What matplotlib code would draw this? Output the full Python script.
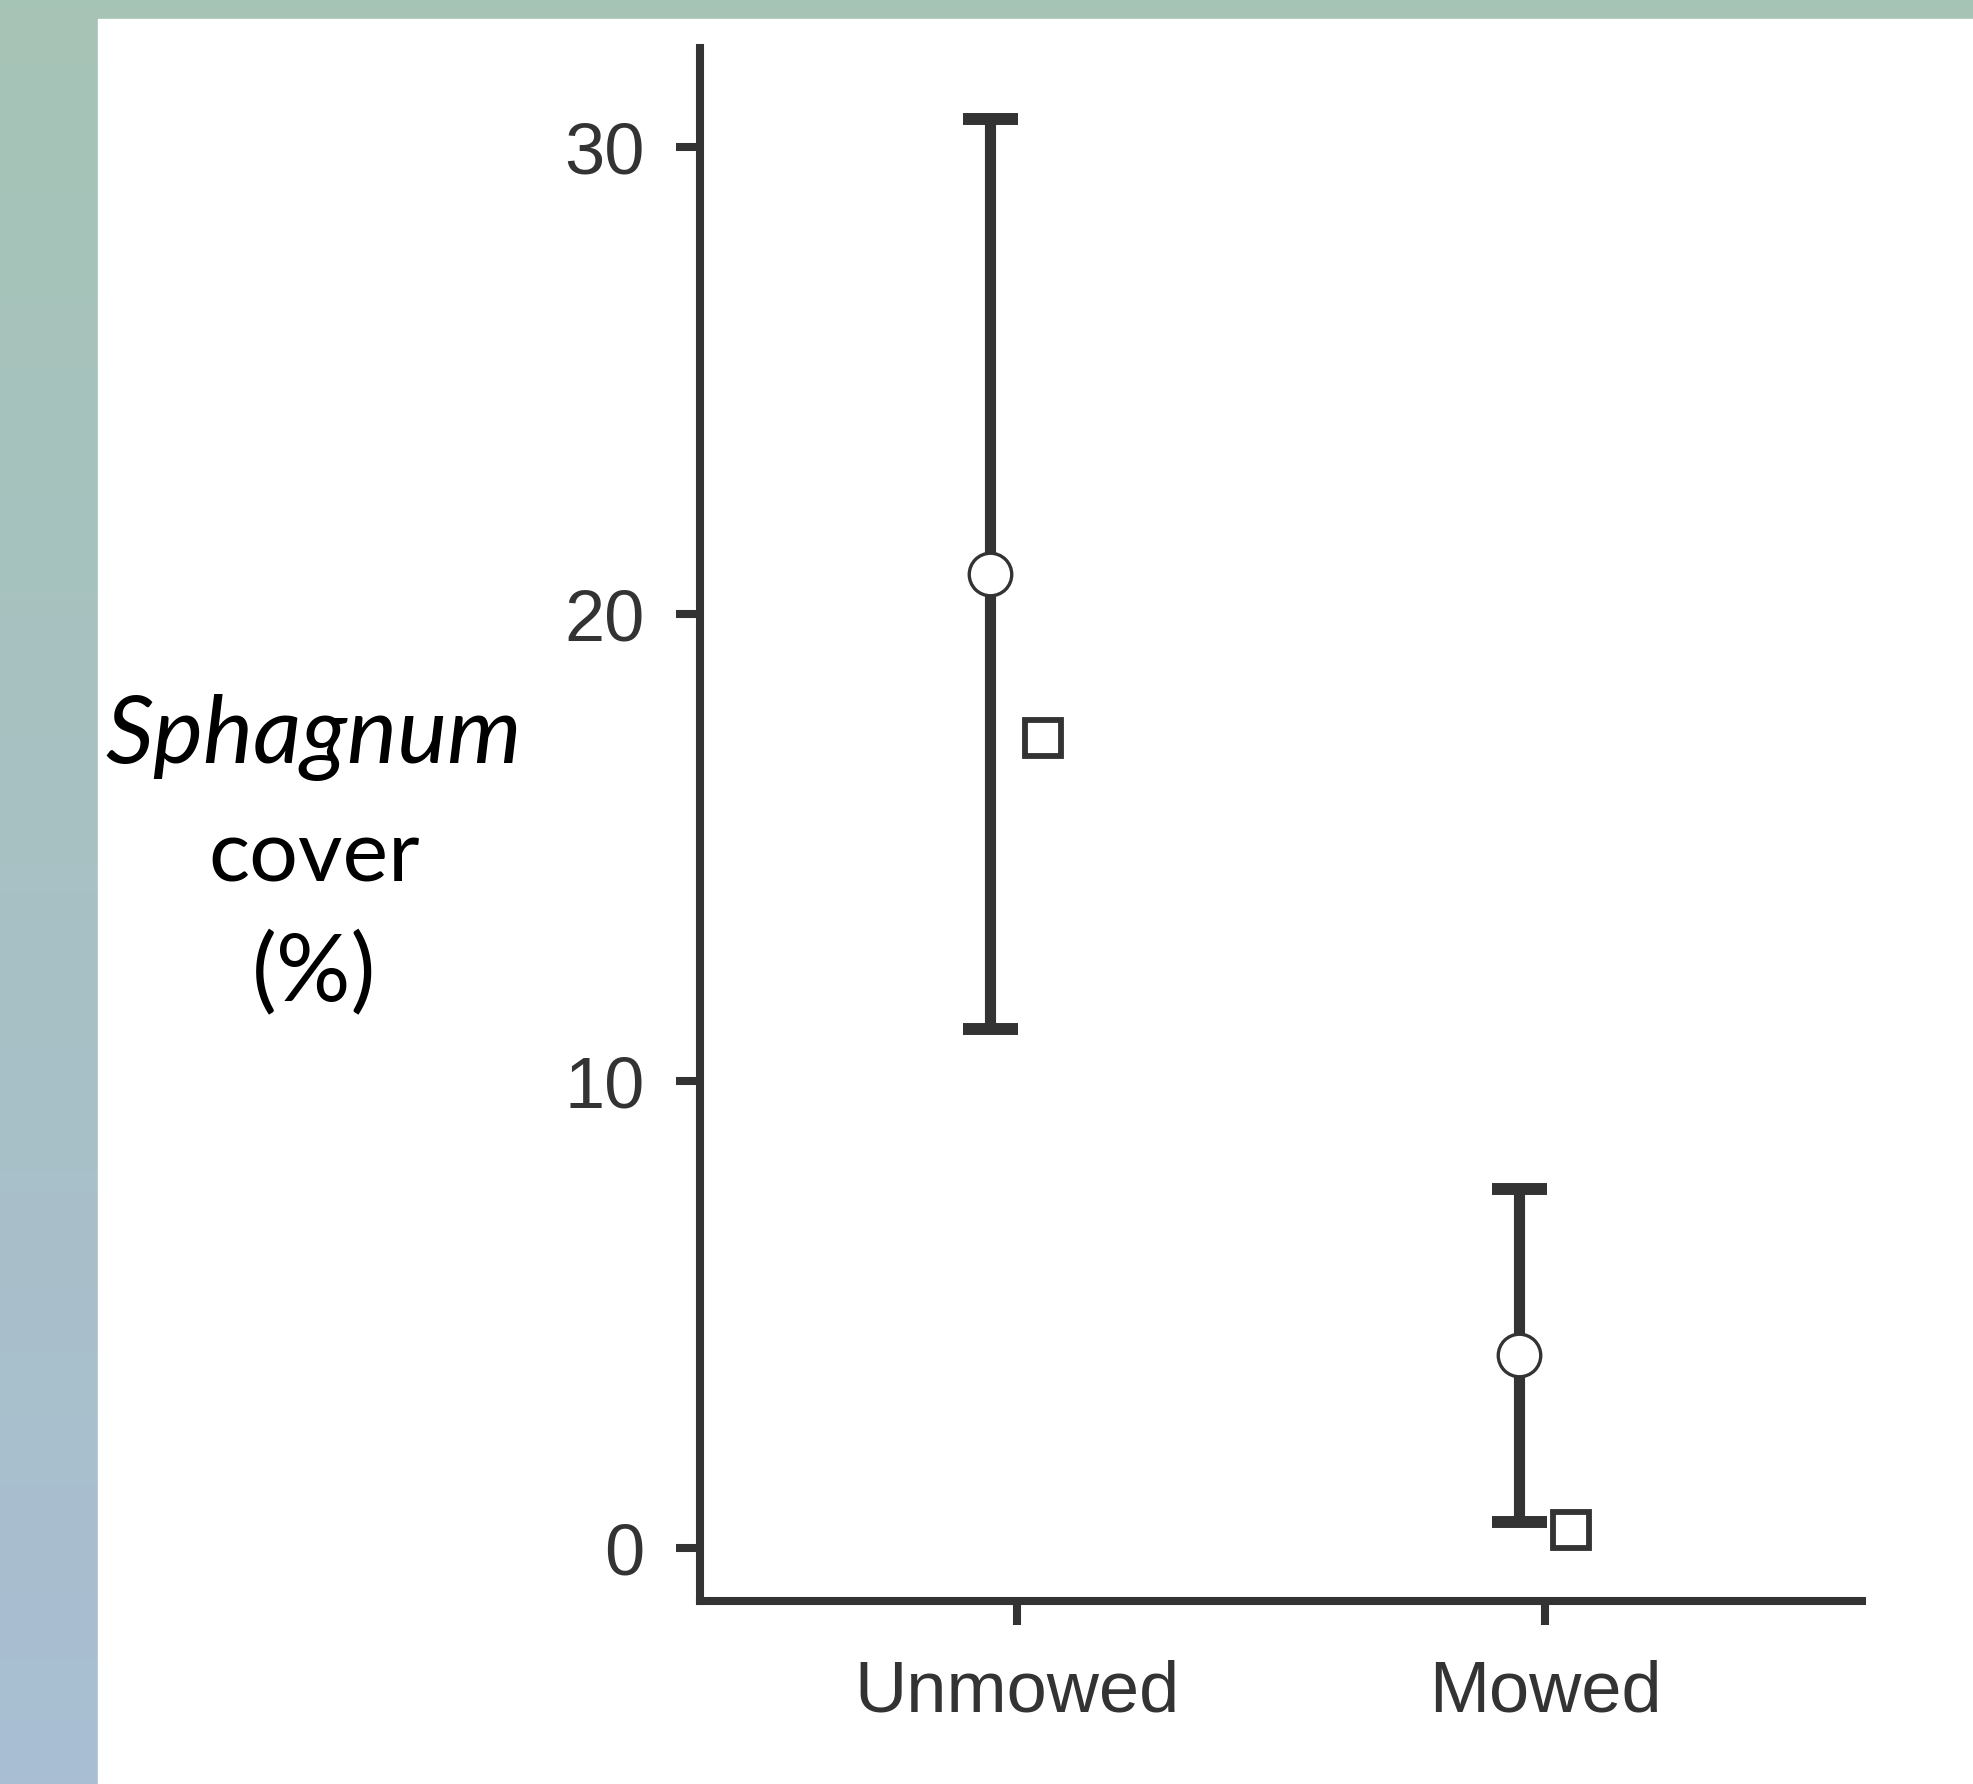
import matplotlib.pyplot as plt
import numpy as np
from matplotlib.patches import Rectangle

# values
groups = ['Unmowed', 'Mowed']
circle_mean = [20.87, 4.14]
circle_lower = [11.12, 0.56]
circle_upper = [30.61, 7.70]
square_mean = [17.35, 0.39]
yticks = [0, 10, 20, 30]

dark = '#333333'
W, H = 1973, 1784
fig = plt.figure(figsize=(W / 100, H / 100), dpi=100)

# slide background: gradient strip on the left and top, white panel
bg = fig.add_axes([0, 0, 1, 1])
grad = np.linspace(0, 1, 256).reshape(-1, 1)
top_rgb = np.array([166, 196, 182]) / 255
bot_rgb = np.array([169, 190, 211]) / 255
img = top_rgb * (1 - grad[..., None]) + bot_rgb * grad[..., None]
bg.imshow(img, aspect='auto', extent=[0, 1, 0, 1], origin='upper')
bg.add_patch(Rectangle((98 / W, 0), 1, 1 - 19 / H, color='white', zorder=2))
bg.set_xlim(0, 1)
bg.set_ylim(0, 1)
bg.axis('off')

ax = fig.add_axes([700 / W, 1 - 1600.7 / H, 1162 / W, (1600.7 - 48) / H])
ax.patch.set_alpha(0)

x = np.arange(1, len(groups) + 1)
mean = np.array(circle_mean)
yerr = [mean - np.array(circle_lower), np.array(circle_upper) - mean]

ax.errorbar(x - 0.05, mean, yerr=yerr, fmt='none', ecolor=dark,
            elinewidth=8.0, capsize=19.8, capthick=8.6, zorder=2)
ax.plot(x - 0.05, mean, 'o', ms=30.6, mfc='white', mec=dark, mew=2.4,
        linestyle='none', zorder=3)
ax.plot(x + 0.05, square_mean, 's', ms=25.6, mfc='white', mec=dark, mew=4.2,
        linestyle='none', zorder=3)

ax.set_xlim(0.4, 2.6)
ax.set_ylim(-1.12, 32.13)
ax.set_xticks(x)
ax.set_xticklabels(groups)
ax.set_yticks(yticks)

for side in ['top', 'right']:
    ax.spines[side].set_visible(False)
for side in ['left', 'bottom']:
    ax.spines[side].set_linewidth(5.8)
    ax.spines[side].set_color(dark)
    ax.spines[side].set_capstyle('projecting')

ax.tick_params(axis='both', length=17, width=5.8, color=dark,
               labelcolor=dark, labelsize=52)
ax.tick_params(axis='y', pad=23)
ax.tick_params(axis='x', pad=25)
for lab in ax.get_xticklabels() + ax.get_yticklabels():
    lab.set_fontfamily('Liberation Sans')

# y label as three stacked lines, Calibri-like font
cx = 314 / W
fig.text(cx, 1 - 763 / H, 'Sphagnum', ha='center', va='baseline',
         fontsize=68, style='italic', family='Lato', color='black')
fig.text(cx, 1 - 882 / H, 'cover', ha='center', va='baseline',
         fontsize=62, family='Lato', color='black')
fig.text(cx, 1 - 1001 / H, '(%)', ha='center', va='baseline',
         fontsize=67, family='Lato', color='black')

fig.savefig('out.png', dpi=100)
plt.close(fig)
